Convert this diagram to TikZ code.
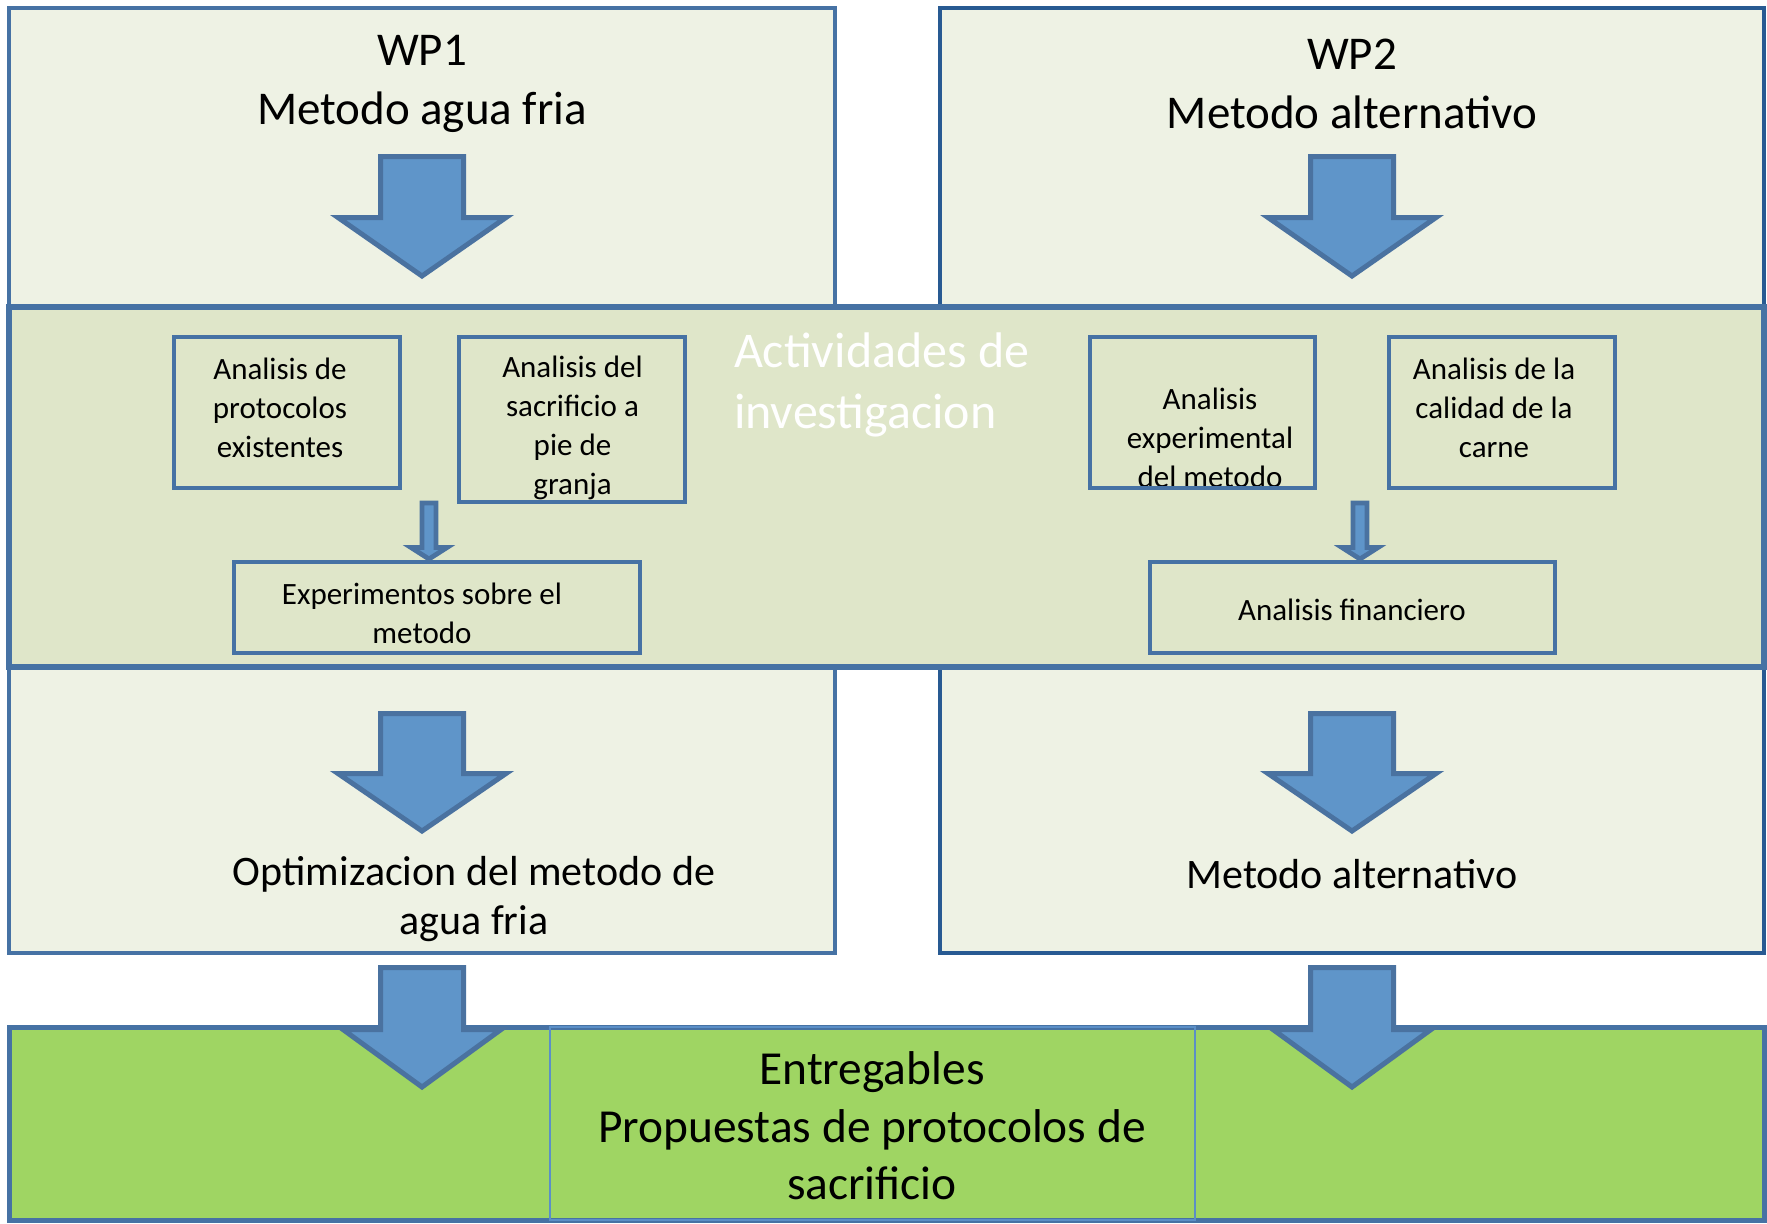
\documentclass[tikz,border=0pt]{standalone}
\usepackage{fontspec}
\setmainfont{Carlito}
\definecolor{wpfill}{HTML}{EEF2E4}
\definecolor{bandfill}{HTML}{DFE6C9}
\definecolor{delivfill}{HTML}{9FD563}
\definecolor{arrowfill}{HTML}{5F95C9}
\definecolor{arrowline}{HTML}{4A72A0}
\definecolor{boxline}{HTML}{4672A4}
\definecolor{wptwoline}{HTML}{285A92}
\definecolor{entline}{HTML}{5B8FC7}

% block arrow: style, centre x, top, neck, tip, half shaft, half head
\newcommand{\blockarrow}[7]{%
  \draw[#1] (#2-#6,#3) -- (#2+#6,#3) -- (#2+#6,#4) -- (#2+#7,#4) -- (#2,#5)
    -- (#2-#7,#4) -- (#2-#6,#4) -- cycle;}

\begin{document}
\begin{tikzpicture}[x=0.5pt, y=-0.5pt, inner sep=0pt, outer sep=0pt,
    wpbox/.style={draw=boxline, fill=wpfill, line width=2.4pt},
    band/.style={draw=boxline, fill=bandfill, line width=2.6pt},
    taskbox/.style={draw=boxline, line width=2.4pt},
    bigtext/.style={align=center, font=\fontsize{23.5}{29.3}\selectfont},
    midtext/.style={align=center, font=\fontsize{21}{24.8}\selectfont},
    smalltext/.style={align=center, font=\fontsize{15.5}{19.5}\selectfont},
    bigarrow/.style={draw=arrowline, fill=arrowfill, line width=2.5pt},
    smallarrow/.style={draw=arrowline, fill=arrowfill, line width=2.4pt}]
  \useasboundingbox (0,0) rectangle (1767,1223);

  % work packages
  \node[wpbox, minimum width=413pt, minimum height=472.5pt] (wpone) at (422,480.5) {};
  \node[wpbox, draw=wptwoline, minimum width=412pt, minimum height=472.5pt] (wptwo) at (1352,480.5) {};

  % research band
  \node[band, minimum width=877.5pt, minimum height=180pt] (research) at (886.5,487) {};

  % deliverables
  \node[draw=boxline, fill=delivfill, line width=2.5pt, minimum width=877.5pt, minimum height=96.5pt] (delivs) at (886.5,1123.5) {};
  \node[draw=entline, line width=1.3pt, minimum width=322.5pt, minimum height=96.5pt] (entbox) at (872.5,1123.5) {};

  % texts
  \node[bigtext] (wponetitle) at (422,84) {WP1\\Metodo agua fria};
  \node[bigtext] (wptwotitle) at (1352,84) {WP2\\Metodo alternativo};
  \node[align=left, anchor=west, text=white, font=\fontsize{25}{30.4}\selectfont] (restitle) at (734,385) {Actividades de\\investigacion};
  \node[midtext] (wponeout) at (474,899) {Optimizacion del metodo de\\agua fria};
  \node[midtext] (wptwoout) at (1352,874) {Metodo alternativo};
  \node[bigtext, font=\fontsize{23.7}{28.7}\selectfont] (enttext) at (872,1126) {Entregables\\Propuestas de protocolos de\\sacrificio};

  \node[smalltext] (prottext) at (280,408) {Analisis de\\protocolos\\existentes};
  \node[smalltext] (sacrtext) at (572.5,428) {Analisis del\\sacrificio a\\pie de\\granja};
  \node[smalltext] (expttext) at (422,613) {Experimentos sobre el\\metodo};
  \node[smalltext] (expmtext) at (1210,438) {Analisis\\experimental\\del metodo};
  \node[smalltext] (caldtext) at (1494,408) {Analisis de la\\calidad de la\\carne};
  \node[smalltext] (fintext) at (1352,610) {Analisis financiero};

  % task boxes
  \node[taskbox, minimum width=113pt, minimum height=75.5pt] (prot) at (287,412.5) {};
  \node[taskbox, minimum width=113pt, minimum height=82.5pt] (sacr) at (572,419.5) {};
  \node[taskbox, minimum width=203pt, minimum height=45.5pt] (expt) at (437,607.5) {};
  \node[taskbox, minimum width=112.5pt, minimum height=75.5pt] (expm) at (1202.5,412.5) {};
  \node[taskbox, minimum width=113pt, minimum height=75.5pt] (cald) at (1502,412.5) {};
  \node[taskbox, minimum width=202.5pt, minimum height=45.5pt] (fin) at (1352.5,607.5) {};

  % small arrows
  \blockarrow{smallarrow}{429}{503}{547.5}{559}{7}{18}
  \blockarrow{smallarrow}{1360}{503}{547.5}{559}{7}{18}

  % big arrows
  \blockarrow{bigarrow}{422}{156.5}{217.5}{276}{41.5}{84}
  \blockarrow{bigarrow}{1352}{156.5}{217.5}{276}{41.5}{84}
  \blockarrow{bigarrow}{422}{713.5}{773.5}{831}{41.5}{84}
  \blockarrow{bigarrow}{1352}{713.5}{773.5}{831}{41.5}{84}
  \blockarrow{bigarrow}{422}{967.5}{1029.5}{1087}{41.5}{79}
  \blockarrow{bigarrow}{1352}{967.5}{1029.5}{1087}{41.5}{79}
\end{tikzpicture}
\end{document}
